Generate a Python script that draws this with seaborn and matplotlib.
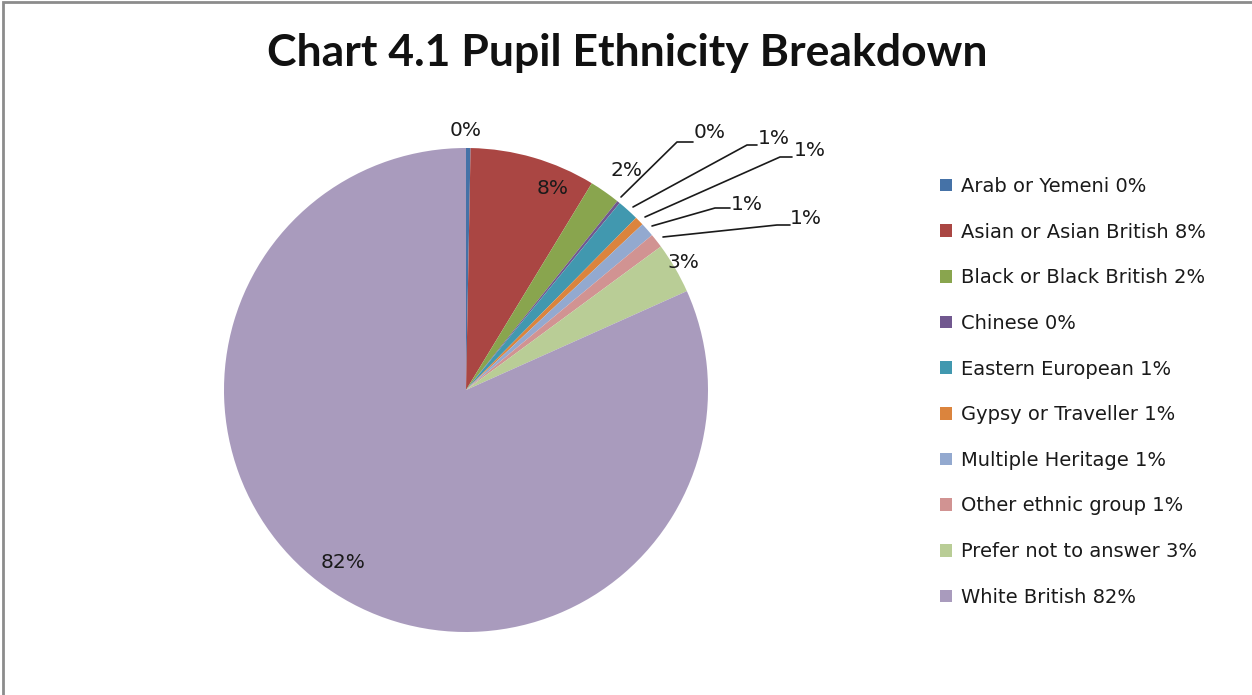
import matplotlib
matplotlib.use('Agg')
import matplotlib.pyplot as plt
import seaborn as sns
from matplotlib.patches import Rectangle

sns.set_style('white')
plt.rcParams['font.family'] = ['DejaVu Sans']

groups = ['Arab or Yemeni', 'Asian or Asian British', 'Black or Black British', 'Chinese',
          'Eastern European', 'Gypsy or Traveller', 'Multiple Heritage', 'Other ethnic group',
          'Prefer not to answer', 'White British']
shares = [0.3, 8.4, 2.05, 0.2, 1.45, 0.6, 0.95, 0.95, 3.4, 81.7]
colours = ['#4572A7', '#AA4643', '#89A54E', '#71588F', '#4198AF',
           '#DB843D', '#93A9CF', '#D19392', '#B9CD96', '#A99BBD']

W, H = 1252, 695
fig = plt.figure(figsize=(W / 100, H / 100), dpi=100)
ax = fig.add_axes([0, 0, 1, 1])

def px(x, y):
    # pixel position (top-left origin) -> data coords (y up)
    return x, H - y

cx, cy = px(466, 390)
R = 242
wedges, _ = ax.pie(shares, colors=sns.color_palette(colours), startangle=90, counterclock=False,
                   center=(cx, cy), radius=R, wedgeprops=dict(linewidth=0))
ax.set_xlim(0, W)
ax.set_ylim(0, H)
ax.set_aspect('equal')
ax.axis('off')

pct = [f'{v:.0f}%' for v in shares]
txt = dict(fontsize=14.5, color='#1a1a1a', va='center')

# labels that sit on or next to their slice
inside = {0: (466, 131), 1: (553, 188), 2: (626, 171), 8: (683, 262), 9: (343, 563)}
for i, (x, y) in inside.items():
    ax.text(*px(x, y), pct[i], ha='center', **txt)

# labels with leader lines: (line start on slice, elbow, end, text position)
leaders = {
    3: [(621, 197), (677, 142), (693, 142), (694, 133)],
    4: [(633, 207), (747, 145), (757, 145), (758, 139)],
    5: [(645, 217), (780, 157), (792, 157), (794, 151)],
    6: [(652, 226), (715, 208), (730, 208), (731, 204)],
    7: [(663, 237), (777, 225), (790, 225), (790, 219)],
}
for i, pts in leaders.items():
    xs = [px(*p)[0] for p in pts[:3]]
    ys = [px(*p)[1] for p in pts[:3]]
    ax.plot(xs, ys, color='#1a1a1a', lw=1.2)
    ax.text(*px(*pts[3]), pct[i], ha='left', **txt)

fig.text(627 / W, 1 - 53 / H, 'Chart 4.1 Pupil Ethnicity Breakdown', ha='center', va='center',
         fontsize=32, fontweight='bold', family=['Lato', 'DejaVu Sans'], color='#111111')

fig.legend(wedges, [f'{g} {p}' for g, p in zip(groups, pct)], loc='upper left',
           bbox_to_anchor=(940 / W, 1 - 177 / H), frameon=False, fontsize=14,
           handlelength=0.62, handleheight=0.62, handletextpad=0.45, labelspacing=1.37,
           borderpad=0, borderaxespad=0, labelcolor='#1a1a1a')

fig.patches.append(Rectangle((3 / W, -0.1), 1.2, 1 - 2 / H + 0.1, transform=fig.transFigure,
                             fill=False, edgecolor='#8c8c8c', linewidth=2))

fig.savefig('out.png', dpi=100)
